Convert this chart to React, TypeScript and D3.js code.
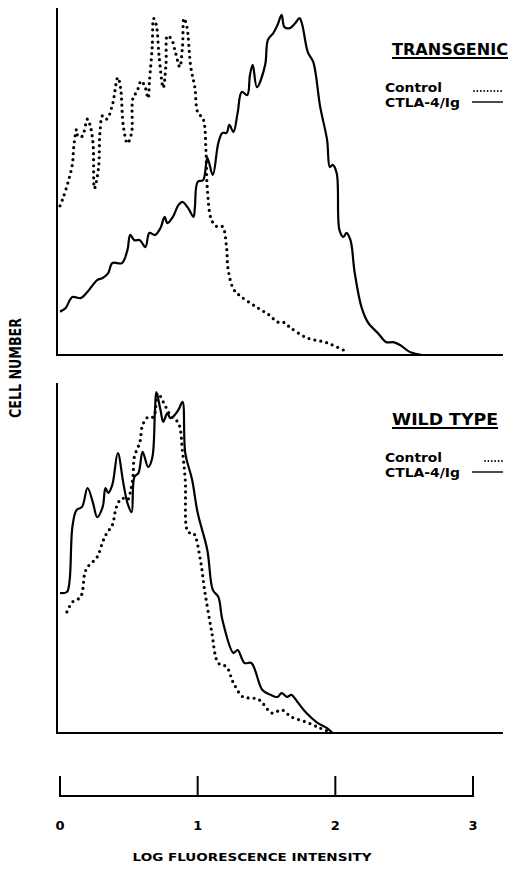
import React from 'react';
import * as d3 from 'd3';

// log fluorescence intensity / relative cell number
const tgControlX = [0.0, 0.02, 0.06, 0.09, 0.10, 0.12, 0.13, 0.16, 0.20, 0.22, 0.24, 0.25, 0.28, 0.29, 0.31, 0.34, 0.38, 0.42, 0.44, 0.46, 0.49, 0.52, 0.53, 0.56, 0.59, 0.62, 0.64, 0.65, 0.67, 0.68, 0.70, 0.72, 0.75, 0.77, 0.78, 0.81, 0.84, 0.87, 0.89, 0.90, 0.92, 0.95, 0.98, 1.00, 1.04, 1.06, 1.07, 1.10, 1.14, 1.18, 1.21, 1.22, 1.26, 1.31, 1.42, 1.52, 1.58, 1.62, 1.67, 1.79, 1.94, 2.08];
const tgControlY = [43, 45, 50, 55, 60, 65, 63, 63, 68, 66, 61, 48, 54, 64, 69, 68, 72, 80, 77, 66, 61, 64, 74, 76, 79, 77, 74, 79, 89, 97, 95, 86, 77, 84, 92, 91, 87, 83, 89, 97, 95, 83, 77, 70, 68, 59, 48, 39, 37, 37, 31, 25, 19, 17, 14, 11.5, 9.5, 9.5, 8, 5, 3.5, 1];
const tgCtlaX = [0.0, 0.04, 0.09, 0.15, 0.20, 0.27, 0.31, 0.35, 0.38, 0.45, 0.49, 0.51, 0.54, 0.58, 0.62, 0.65, 0.69, 0.73, 0.76, 0.78, 0.82, 0.86, 0.89, 0.93, 0.97, 0.98, 1.00, 1.04, 1.07, 1.11, 1.15, 1.18, 1.21, 1.23, 1.26, 1.29, 1.32, 1.36, 1.38, 1.40, 1.43, 1.49, 1.51, 1.55, 1.58, 1.61, 1.63, 1.67, 1.71, 1.74, 1.76, 1.80, 1.84, 1.89, 1.94, 1.96, 1.98, 2.01, 2.03, 2.06, 2.08, 2.11, 2.14, 2.19, 2.24, 2.31, 2.37, 2.42, 2.47, 2.54, 2.63];
const tgCtlaY = [12.5, 13.5, 16.7, 16.4, 18.2, 21.6, 22.2, 23.6, 26.5, 26.5, 30.3, 34.6, 33.1, 33.1, 31.1, 35.2, 34.6, 36.6, 39.8, 38, 39.8, 43.2, 44.1, 42.4, 39.8, 42.7, 49.9, 50.4, 56.8, 51.9, 61.1, 64, 64, 66.3, 64.3, 69.7, 75.8, 74.9, 80.7, 83.6, 77.2, 83.6, 90.8, 92.8, 95.1, 98, 94.5, 94.2, 95.7, 97.1, 95.1, 87.3, 84.4, 71.5, 62, 54.2, 54.8, 52.4, 36, 34, 35.2, 33.1, 23.9, 13.8, 9.2, 6.3, 3.7, 3.7, 2.9, 0.9, 0];

const wtControlX = [0.05, 0.09, 0.15, 0.18, 0.20, 0.27, 0.31, 0.34, 0.38, 0.41, 0.45, 0.49, 0.51, 0.53, 0.54, 0.58, 0.60, 0.64, 0.68, 0.71, 0.75, 0.78, 0.81, 0.86, 0.89, 0.91, 0.93, 0.97, 1.02, 1.05, 1.10, 1.15, 1.21, 1.26, 1.33, 1.40, 1.45, 1.54, 1.61, 1.68, 1.79, 1.89, 1.96];
const wtControlY = [34.6, 37.4, 38.9, 45.7, 47.4, 50.3, 54.6, 57.1, 59.4, 64.6, 67.1, 66.6, 68.6, 73.1, 78.9, 83.1, 88, 90.3, 90.3, 97.1, 94.6, 92.3, 90.3, 88.6, 80.3, 72.3, 57.4, 57.1, 49.4, 40.9, 29.4, 20, 18.9, 14.3, 10.3, 10, 9.4, 5.7, 6.6, 4.6, 3.1, 1.4, 0.3];
const wtCtlaX = [0.0, 0.05, 0.07, 0.09, 0.12, 0.16, 0.20, 0.24, 0.27, 0.31, 0.33, 0.35, 0.38, 0.42, 0.46, 0.49, 0.52, 0.54, 0.57, 0.60, 0.64, 0.67, 0.69, 0.70, 0.73, 0.75, 0.78, 0.80, 0.82, 0.86, 0.89, 0.91, 0.96, 1.00, 1.07, 1.11, 1.15, 1.18, 1.26, 1.29, 1.34, 1.39, 1.47, 1.53, 1.58, 1.61, 1.65, 1.68, 1.73, 1.79, 1.87, 1.94, 1.98];
const wtCtlaY = [40, 40.3, 43.7, 58.9, 63.7, 64.6, 70, 65.7, 61.7, 64.6, 70, 68.6, 70.9, 80, 71.4, 65.7, 63.1, 73.1, 74.3, 80.3, 76, 78.6, 92.3, 97.4, 92.3, 88.9, 91.4, 90, 90.3, 92.3, 94.6, 80, 72.3, 62.9, 52.3, 40.9, 38.9, 32.3, 22.9, 23.7, 20, 20, 12.3, 10.9, 10.3, 11.4, 10.3, 10.9, 8.6, 5.7, 2.9, 1.4, 0];

const tickValues = [0, 1, 2, 3];
const tickLabels = ['0', '1', '2', '3'];
const panelTitles = ['TRANSGENIC', 'WILD TYPE'];
const legendLabels = ['Control', 'CTLA-4/Ig'];

const font = "'DejaVu Sans', sans-serif";

function zip(xs: number[], ys: number[]) {
  return xs.map((x, i) => [x, ys[i]] as [number, number]);
}

const x = d3.scaleLinear().domain([0, 3]).range([60, 473]);

function Panel({ top, bottom, control, ctla, title, titleX, titleW, legY, ctrlLine }: any) {
  const y = d3.scaleLinear().domain([0, 100]).range([bottom, top]);
  const line = d3.line<[number, number]>()
    .x(d => x(d[0]))
    .y(d => y(d[1]))
    .curve(d3.curveCatmullRom.alpha(0.5));
  return (
    <g>
      <line x1={57} x2={57} y1={top} y2={bottom} stroke="#000" strokeWidth={2} />
      <line x1={56} x2={503} y1={bottom} y2={bottom} stroke="#000" strokeWidth={2} />
      <path d={line(control) || ''} fill="none" stroke="#000" strokeWidth={3.2}
        strokeLinecap="round" strokeDasharray="0 6" />
      <path d={line(ctla) || ''} fill="none" stroke="#000" strokeWidth={2.2}
        strokeLinejoin="round" />
      <text x={titleX} y={legY} fontFamily={font} fontWeight="bold" fontSize={16}
        textLength={titleW} lengthAdjust="spacingAndGlyphs">{title}</text>
      <line x1={titleX} x2={titleX + titleW} y1={legY + 3} y2={legY + 3} stroke="#000" strokeWidth={2} />
      <text x={385} y={legY + 37} fontFamily={font} fontWeight="bold" fontSize={12}
        textLength={57} lengthAdjust="spacingAndGlyphs">{legendLabels[0]}</text>
      <text x={385} y={legY + 52} fontFamily={font} fontWeight="bold" fontSize={12}
        textLength={75} lengthAdjust="spacingAndGlyphs">{legendLabels[1]}</text>
      <line x1={ctrlLine} x2={503} y1={legY + 36} y2={legY + 36} stroke="#000" strokeWidth={1.8}
        strokeLinecap="round" strokeDasharray="0 3.4" />
      <line x1={472} x2={503} y1={legY + 47} y2={legY + 47} stroke="#000" strokeWidth={1.4} />
    </g>
  );
}

export default function App() {
  return (
    <svg width={517} height={869} style={{ position: 'absolute', left: 0, top: 0, background: '#fff' }}>
      <rect width={517} height={869} fill="#fff" />
      <Panel top={8} bottom={355} control={zip(tgControlX, tgControlY)} ctla={zip(tgCtlaX, tgCtlaY)}
        title={panelTitles[0]} titleX={392} titleW={116} legY={55} ctrlLine={474} />
      <Panel top={383} bottom={733} control={zip(wtControlX, wtControlY)} ctla={zip(wtCtlaX, wtCtlaY)}
        title={panelTitles[1]} titleX={392} titleW={106} legY={425} ctrlLine={485} />

      <text transform="translate(21,368) rotate(-90)" textAnchor="middle" fontFamily={font}
        fontWeight="bold" fontSize={16} textLength={100} lengthAdjust="spacingAndGlyphs">CELL NUMBER</text>

      {/* bottom scale */}
      <line x1={x(0)} x2={x(3)} y1={796} y2={796} stroke="#000" strokeWidth={2} />
      {tickValues.map((t, i) => (
        <g key={t}>
          <line x1={x(t)} x2={x(t)} y1={776} y2={797} stroke="#000" strokeWidth={2} />
          <text x={x(t)} y={830} textAnchor="middle" fontFamily={font} fontWeight="bold" fontSize={13}>{tickLabels[i]}</text>
        </g>
      ))}
      <text x={252} y={861} textAnchor="middle" fontFamily={font} fontWeight="bold" fontSize={11}
        textLength={239} lengthAdjust="spacingAndGlyphs">LOG FLUORESCENCE INTENSITY</text>
    </svg>
  );
}
